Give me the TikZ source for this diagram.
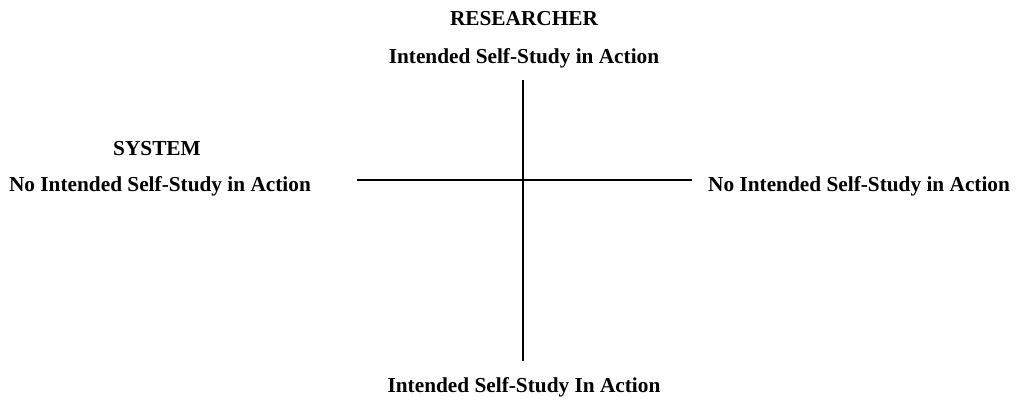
\documentclass[tikz,border=0pt]{standalone}
\usepackage{fontspec}
\setmainfont{Liberation Serif}
\begin{document}
\begin{tikzpicture}[x=1pt,y=-1pt,
  lbl/.style={font=\fontsize{21.3}{25}\selectfont\bfseries, inner sep=0pt, anchor=base},
  axis/.style={line width=1.6pt, draw=black}]
\useasboundingbox (0,0) rectangle (1016,400);
% quadrant axes
\coordinate (top) at (523,80);
\coordinate (bottom) at (523,361);
\coordinate (left) at (357,180);
\coordinate (right) at (692,180);
\draw[axis] (top) -- (bottom);
\draw[axis] (left) -- (right);
% labels
\node[lbl] (res) at (524,25) {RESEARCHER};
\node[lbl] (restop) at (524,63) {Intended Self-Study in Action};
\node[lbl] (sys) at (157,155) {SYSTEM};
\node[lbl] (sysleft) at (160,191) {No Intended Self-Study in Action};
\node[lbl, anchor=base west] (sysright) at (708,191) {No Intended Self-Study in Action};
\node[lbl] (resbot) at (524,392) {Intended Self-Study In Action};
\end{tikzpicture}
\end{document}
